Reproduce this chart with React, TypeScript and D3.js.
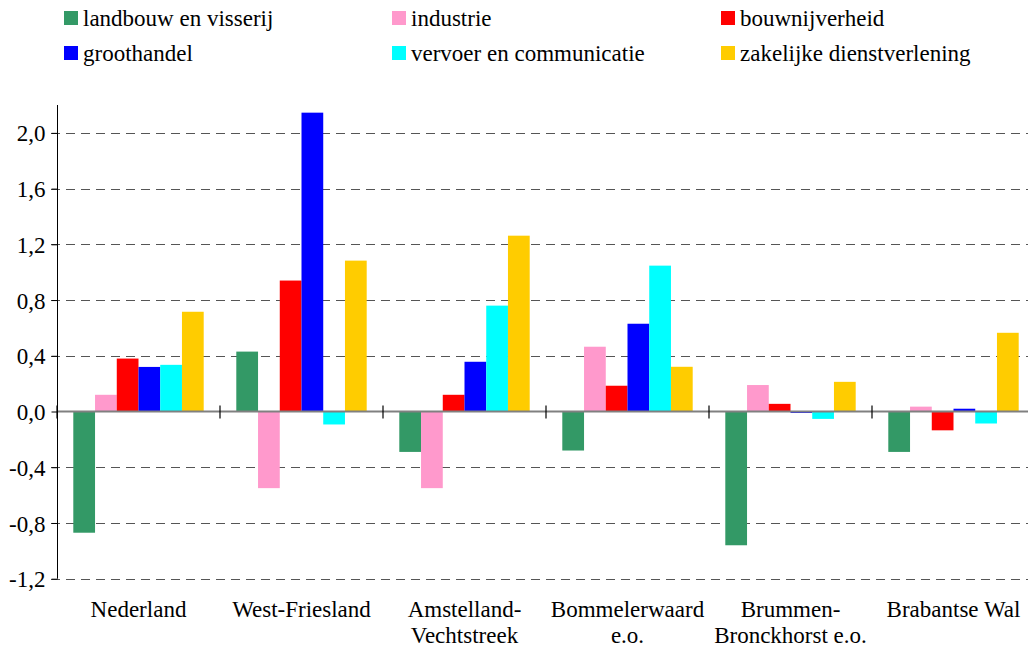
import React, { useEffect, useRef } from "react";
import * as d3 from "d3";

const categories = [
  ["Nederland"],
  ["West-Friesland"],
  ["Amstelland-", "Vechtstreek"],
  ["Bommelerwaard", "e.o."],
  ["Brummen-", "Bronckhorst e.o."],
  ["Brabantse Wal"],
];
const seriesNames = [
  "landbouw en visserij",
  "industrie",
  "bouwnijverheid",
  "groothandel",
  "vervoer en communicatie",
  "zakelijke dienstverlening",
];
const seriesColors = ["#339966", "#FF99CC", "#FF0000", "#0000FF", "#00FFFF", "#FFCC00"];
const landbouw = [-0.87, 0.43, -0.29, -0.28, -0.96, -0.29];
const industrie = [0.12, -0.55, -0.55, 0.465, 0.19, 0.035];
const bouw = [0.38, 0.94, 0.12, 0.185, 0.055, -0.135];
const groothandel = [0.32, 2.145, 0.357, 0.63, -0.01, 0.02];
const vervoer = [0.335, -0.093, 0.76, 1.047, -0.053, -0.086];
const zakelijk = [0.716, 1.083, 1.262, 0.321, 0.213, 0.565];
const seriesValues = [landbouw, industrie, bouw, groothandel, vervoer, zakelijk];
const yTicks = [-1.2, -0.8, -0.4, 0.0, 0.4, 0.8, 1.2, 1.6, 2.0];

const FONT = '"Liberation Serif", "Times New Roman", Tinos';

export default function App() {
  const W = 1028, H = 653;
  const left = 57, right = 1035, top = 105, bottom = 578.7;
  const y = d3.scaleLinear().domain([-1.2, 2.2]).range([bottom, top]);
  const x0 = d3.scaleBand<number>().domain(d3.range(categories.length)).range([left, right]).padding(0);
  const inner = d3.scaleBand<number>().domain(d3.range(seriesNames.length))
    .range([x0.bandwidth() * 0.1, x0.bandwidth() * 0.9]);
  const FS = 23;
  const fmt = (v: number) => d3.format(".1f")(v).replace(".", ",").replace("−", "-");
  const y0 = y(0);
  const axisRef = useRef<SVGGElement>(null);
  const legendRef = useRef<SVGGElement>(null);

  useEffect(() => {
    if (axisRef.current) {
      const g = d3.select(axisRef.current);
      g.selectAll("*").remove();
      g.attr("transform", `translate(${left + 0.5},0)`)
        .call(d3.axisLeft(y).tickValues(yTicks).tickSize(6).tickPadding(6).tickFormat((d) => fmt(d as number)));
      g.select(".domain").attr("d", `M0,${top}V${bottom}`).attr("stroke", "#000");
      g.selectAll(".tick line").attr("stroke", "#000");
      g.selectAll(".tick text")
        .attr("fill", "#000")
        .attr("dy", "0.35em")
        .style("font-family", FONT)
        .style("font-size", FS + "px");
      g.attr("font-family", null).attr("font-size", null);
    }
    if (legendRef.current) {
      const lg = d3.select(legendRef.current);
      lg.selectAll("*").remove();
      const items = lg.selectAll("g").data(seriesNames).join("g")
        .attr("transform", (_, i) => `translate(${[64, 392, 721][i % 3]},${[11, 46][Math.floor(i / 3)]})`);
      items.append("rect").attr("width", 14).attr("height", 14).attr("fill", (_, i) => seriesColors[i]);
      items.append("text").attr("x", 19).attr("y", 15).text((d) => d)
        .attr("fill", "#000")
        .style("font-family", FONT)
        .style("font-size", FS + "px");
    }
  }, []);

  return (
    <svg width={W} height={H} style={{ position: "absolute", left: 0, top: 0, background: "#fff" }}>
      {/* gridlines */}
      {yTicks.filter(t => t !== 0).map(t => (
        <line key={t} x1={left - 6} x2={W} y1={Math.round(y(t)) + 0.5} y2={Math.round(y(t)) + 0.5}
          stroke="#555" strokeWidth={1} strokeDasharray="9,6" />
      ))}
      {/* bars */}
      <g>
        {categories.map((_, ci) => (
          <g key={ci} transform={`translate(${x0(ci)},0)`}>
            {seriesValues.map((vals, si) => {
              const v = vals[ci];
              const ya = y(Math.max(0, v)), yb = y(Math.min(0, v));
              return (
                <rect key={si} x={inner(si)} width={inner.bandwidth()} y={ya} height={Math.max(1, yb - ya)}
                  fill={seriesColors[si]} />
              );
            })}
          </g>
        ))}
      </g>
      {/* zero line */}
      <line x1={left} x2={W} y1={y0} y2={y0} stroke="#808080" strokeWidth={2} />
      {/* y axis (d3) */}
      <g ref={axisRef} />
      {/* legend (d3) */}
      <g ref={legendRef} />
      {/* category ticks */}
      {d3.range(categories.length + 1).map(i => {
        const xx = left + i * x0.bandwidth();
        return <line key={"c" + i} x1={xx} x2={xx} y1={y0 - 6} y2={y0 + 7} stroke="#000" strokeWidth={1.2} />;
      })}
      {/* category labels */}
      {categories.map((lines, ci) => (
        <text key={"cl" + ci} x={(x0(ci) as number) + x0.bandwidth() / 2} y={617} textAnchor="middle"
          style={{ fontFamily: FONT, fontSize: FS + "px" }} fill="#000">
          {lines.map((ln, k) => (
            <tspan key={k} x={(x0(ci) as number) + x0.bandwidth() / 2} dy={k === 0 ? 0 : 26}>{ln}</tspan>
          ))}
        </text>
      ))}
    </svg>
  );
}
